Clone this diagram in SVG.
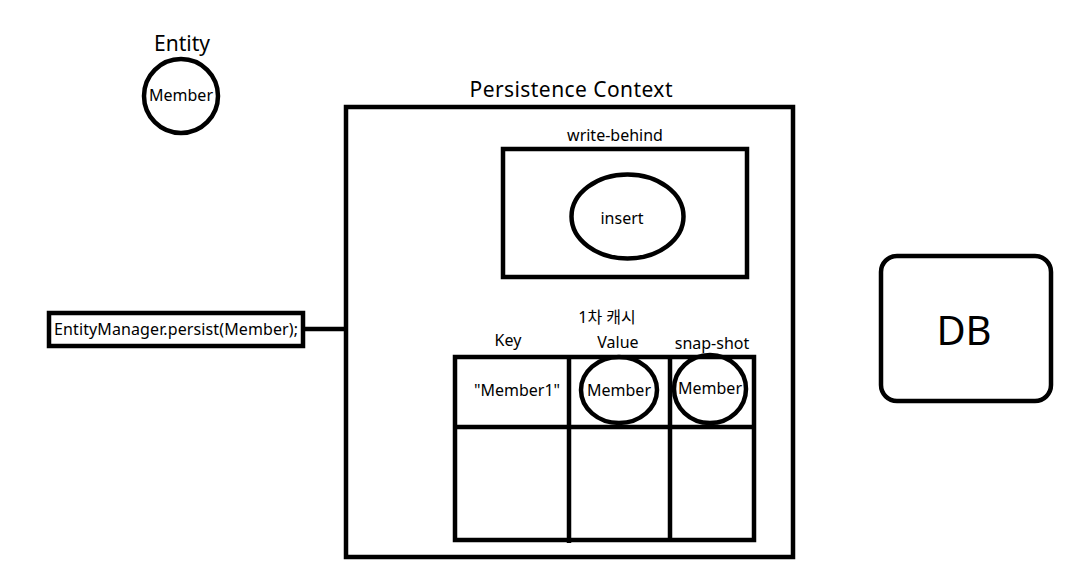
<svg xmlns="http://www.w3.org/2000/svg" width="1070" height="579" viewBox="0 0 1070 579">
<style>
text{font-family:"Noto Sans","Noto Sans CJK KR",sans-serif;fill:#000}
.s{fill:none;stroke:#000;stroke-width:4.5}
.m{font-size:16px;text-anchor:middle}
.l{font-size:21px;text-anchor:middle}
</style>
<rect width="1070" height="579" fill="#fff"/>
<g id="connectors">
<line x1="303" y1="329" x2="346" y2="329" class="s"/>
</g>
<g id="entity">
<text x="182" y="51" class="l">Entity</text>
<ellipse cx="181" cy="96" rx="37" ry="37" class="s"/>
<text x="181" y="101" class="m">Member</text>
</g>
<g id="entity-manager">
<rect x="49" y="313" width="254" height="33" class="s"/>
<text x="176" y="335" class="m" textLength="244">EntityManager.persist(Member);</text>
</g>
<g id="persistence-context">
<text x="571" y="97" class="l" font-size="21.5" textLength="203">Persistence Context</text>
<rect x="346" y="107" width="447" height="450" class="s"/>
</g>
<g id="write-behind">
<text x="615" y="141" class="m">write-behind</text>
<rect x="503" y="149" width="244" height="128" class="s"/>
<ellipse cx="627.5" cy="216.5" rx="56" ry="42" class="s"/>
<text x="622" y="224" class="m">insert</text>
</g>
<g id="first-level-cache">
<text x="607" y="323" class="m">1차 캐시</text>
<text x="508" y="346" class="m">Key</text>
<text x="618" y="348" class="m">Value</text>
<text x="712" y="349" class="m">snap-shot</text>
<rect x="455" y="357" width="299" height="183" class="s"/>
<line x1="455" y1="427" x2="754" y2="427" class="s"/>
<line x1="569" y1="357" x2="569" y2="543" class="s"/>
<line x1="670" y1="357" x2="670" y2="540" class="s"/>
<text x="517" y="396" class="m">"Member1"</text>
<ellipse cx="619" cy="390" rx="38" ry="33" class="s"/>
<text x="619" y="396" class="m">Member</text>
<ellipse cx="710" cy="389" rx="36" ry="34" class="s"/>
<text x="710" y="394" class="m">Member</text>
</g>
<g id="db">
<rect x="881" y="256" width="170" height="145" rx="16" class="s"/>
<text x="964" y="345" font-size="40" text-anchor="middle">DB</text>
</g>
</svg>
